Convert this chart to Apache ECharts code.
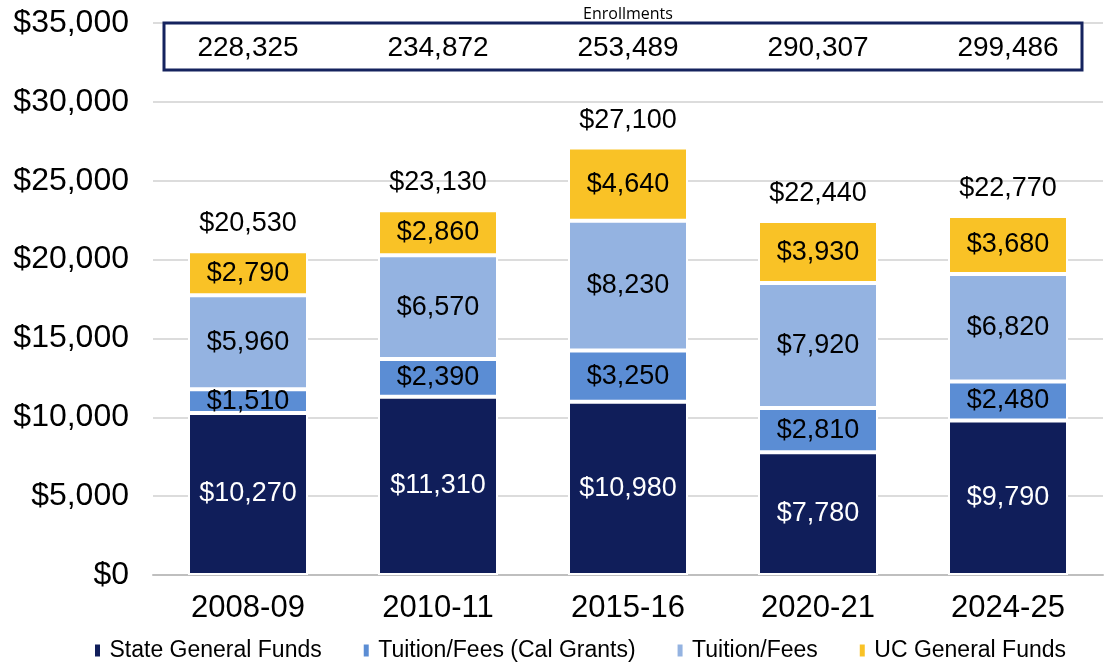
<!DOCTYPE html>
<html>
<head>
<meta charset="utf-8">
<script src="https://cdn.jsdelivr.net/npm/echarts@6/dist/echarts.min.js"></script>
<style>
    html, body {margin: 0; padding: 0; background: #fff;}
    #main {width: 1116px; height: 669px;}
</style>
</head>
<body>
<div id="main"></div>
<script>
var years = ['2008-09', '2010-11', '2015-16', '2020-21', '2024-25'];
var stateFunds = [10270, 11310, 10980, 7780, 9790];
var calGrants = [1510, 2390, 3250, 2810, 2480];
var tuition = [5960, 6570, 8230, 7920, 6820];
var ucFunds = [2790, 2860, 4640, 3930, 3680];
var totals = [20530, 23130, 27100, 22440, 22770];
var enrollments = [228325, 234872, 253489, 290307, 299486];

~function () {
    var myChart = echarts.init(document.getElementById('main'));
    var font = 'Liberation Sans, Arial, sans-serif';
    var money = function (v) {
        return '$' + Number(v).toLocaleString('en-US');
    };
    var barStyle = {borderColor: '#fff', borderWidth: 2};

    function stackSeries(name, data, color, textColor) {
        return {
            name: name,
            type: 'bar',
            stack: 'total',
            barWidth: 120,
            data: data,
            itemStyle: Object.assign({color: color}, barStyle),
            label: {
                show: true,
                position: 'inside',
                color: textColor,
                fontSize: 27,
                fontFamily: font,
                formatter: function (p) { return money(p.value); }
            }
        };
    }

    // y position of the enrollment row inside the box
    var enrollRowY = 33400;

    var option = {
        animation: false,
        title: {
            text: 'Enrollments',
            left: 623,
            textAlign: 'center',
            top: 1,
            textStyle: {fontSize: 16, fontWeight: 'normal', fontFamily: 'Open Sans, sans-serif', color: '#000'}
        },
        grid: {left: 153, right: 13, top: 23, bottom: 94},
        legend: {
            bottom: 2,
            left: 88,
            data: ['State General Funds', 'Tuition/Fees (Cal Grants)', 'Tuition/Fees', 'UC General Funds'],
            icon: 'path://M0,0h1v2h-1z',
            itemWidth: 14,
            itemHeight: 14,
            itemGap: 40,
            textStyle: {fontSize: 23, fontFamily: font, color: '#000'}
        },
        xAxis: {
            type: 'category',
            data: years,
            axisTick: {show: false},
            axisLine: {lineStyle: {color: '#bfbfbf', width: 2}},
            axisLabel: {fontSize: 31, fontFamily: font, color: '#000', margin: 18}
        },
        yAxis: {
            type: 'value',
            min: 0,
            max: 35000,
            interval: 5000,
            axisLine: {show: false},
            axisTick: {show: false},
            splitLine: {lineStyle: {color: '#d0d0d0', width: 1.5}},
            axisLabel: {
                fontSize: 32,
                fontFamily: font,
                color: '#000',
                margin: 24,
                formatter: money
            }
        },
        graphic: [{
            type: 'rect',
            z: 100,
            shape: {x: 164, y: 23, width: 918, height: 47},
            style: {fill: null, stroke: '#15235e', lineWidth: 3}
        }],
        series: [
            stackSeries('State General Funds', stateFunds, '#101e5a', '#fff'),
            stackSeries('Tuition/Fees (Cal Grants)', calGrants, '#5b8dd4', '#000'),
            stackSeries('Tuition/Fees', tuition, '#94b3e1', '#000'),
            stackSeries('UC General Funds', ucFunds, '#f9c226', '#000'),
            {
                name: 'Total',
                type: 'scatter',
                data: totals,
                symbolSize: 0,
                silent: true,
                itemStyle: {opacity: 1},
                label: {
                    show: true,
                    position: 'top',
                    distance: 14,
                    color: '#000',
                    fontSize: 27,
                    fontFamily: font,
                    formatter: function (p) { return money(p.value); }
                }
            },
            {
                name: 'Enrollments',
                type: 'scatter',
                symbolSize: 0,
                silent: true,
                itemStyle: {opacity: 1},
                data: enrollments.map(function (e, i) { return [years[i], enrollRowY, e]; }),
                label: {
                    show: true,
                    position: 'inside',
                    color: '#000',
                    fontSize: 28,
                    fontFamily: font,
                    formatter: function (p) { return Number(p.value[2]).toLocaleString('en-US'); }
                }
            }
        ]
    };
    myChart.setOption(option);
}();
</script>
</body>
</html>
